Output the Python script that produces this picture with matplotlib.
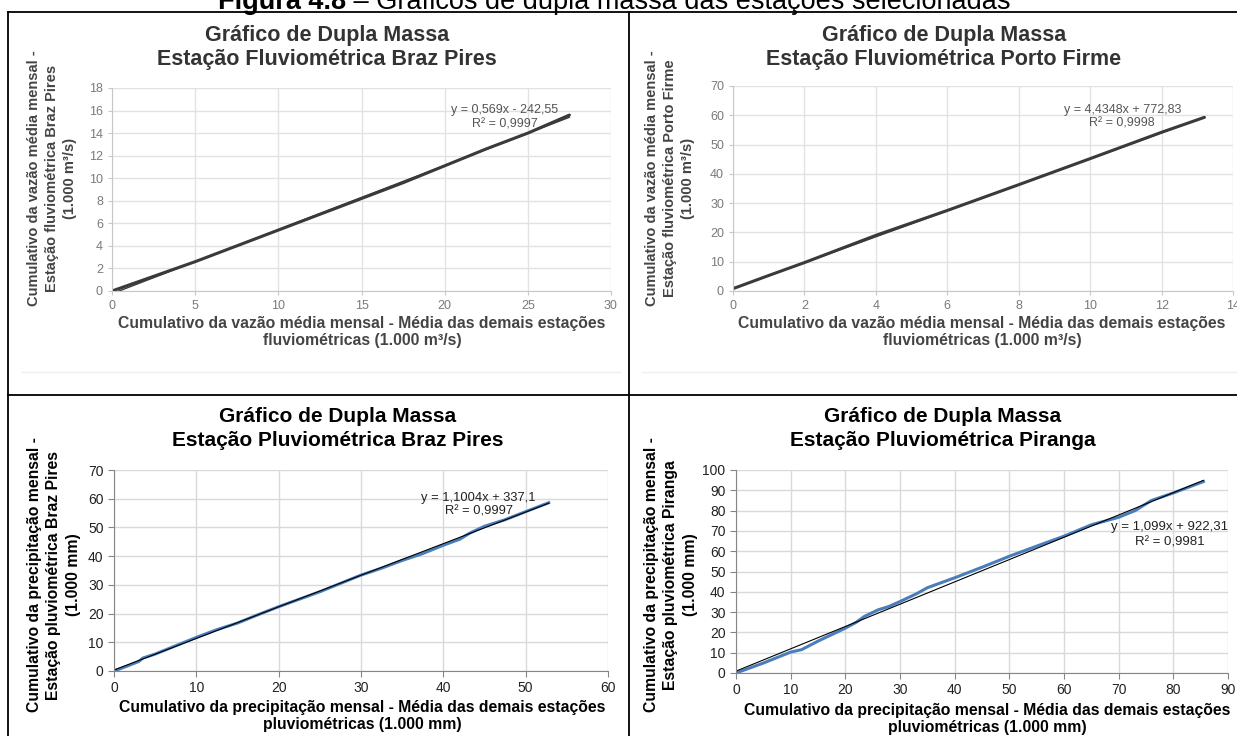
import matplotlib.pyplot as plt
import numpy as np

W, H = 1237, 736

# --- data (cumulative values, thousands) ---
# Estação Fluviométrica Braz Pires
fbp_x = [0, 2.5, 5, 7.5, 10, 12.5, 15, 17.5, 20, 22.5, 25, 27.5]
fbp_y = [0, 1.3, 2.6, 4.0, 5.4, 6.8, 8.2, 9.6, 11.1, 12.6, 14.0, 15.6]
fbp_fit = [0.569, -0.24255]
fbp_eq = "y = 0,569x - 242,55\nR² = 0,9997"

# Estação Fluviométrica Porto Firme
fpf_x = [0, 1, 2, 4, 6, 8, 10, 12, 13.2]
fpf_y = [0.8, 5.3, 9.7, 19.0, 27.5, 36.3, 45.2, 54.2, 59.3]
fpf_fit = [4.4348, 0.77283]
fpf_eq = "y = 4,4348x + 772,83\nR² = 0,9998"

# Estação Pluviométrica Braz Pires
pbp_x = [0, 1.5, 3.0, 3.5, 5, 7.5, 10, 12.5, 15, 17.5, 20, 22.5, 25, 27.5,
         30, 32.5, 35, 37.5, 40, 42, 43.2, 45, 47.5, 50, 52.8]
pbp_y = [0, 1.6, 3.3, 4.5, 5.9, 8.8, 11.7, 14.4, 16.7, 19.6, 22.4, 25.0, 27.6, 30.5,
         33.4, 35.8, 38.5, 40.9, 43.8, 45.9, 48.0, 50.4, 52.7, 55.5, 58.6]
pbp_fit = [1.1004, 0.3371]
pbp_eq = "y = 1,1004x + 337,1\nR² = 0,9997"

# Estação Pluviométrica Piranga
ppi_x = [0, 5, 10, 12, 15, 20, 22, 23.5, 26, 28, 30, 33, 35, 40, 45, 50,
         55, 60, 65, 70, 73, 74.5, 76, 80, 85.5]
ppi_y = [0, 4.9, 10.3, 11.5, 15.7, 22.1, 25.0, 27.9, 31.1, 32.8, 35.2, 39.0, 42.0, 46.9,
         52.1, 57.5, 62.5, 67.4, 73.0, 76.7, 80.0, 82.5, 85.0, 88.7, 94.3]
ppi_fit = [1.099, 0.92231]
ppi_eq = "y = 1,099x + 922,31\nR² = 0,9981"

plt.rcParams['font.family'] = ['Liberation Sans', 'DejaVu Sans']

fig = plt.figure(figsize=(W / 100, H / 100), dpi=100)


def fx(x):
    return x / W


def fy(y):
    return 1 - y / H


def add_ax(x0, x1, y0, y1):
    return fig.add_axes([fx(x0), fy(y1), (x1 - x0) / W, (y1 - y0) / H])


def style(ax, old):
    ax.set_axisbelow(True)
    ax.spines['top'].set_visible(False)
    ax.spines['right'].set_visible(False)
    if old:
        ax.grid(True, color='#e2e2e2', lw=1.0)
        for s in ['left', 'bottom']:
            ax.spines[s].set_color('#c8c8c8')
        ax.tick_params(colors='#c8c8c8', labelcolor='#7a7a7a', labelsize=9, length=3)
    else:
        ax.grid(True, color='#d9d9d9', lw=1.0)
        for s in ['left', 'bottom']:
            ax.spines[s].set_color('#868686')
        ax.tick_params(colors='#868686', labelcolor='#222222', labelsize=10, length=4)


def titles(cx, l1, l2, color, y1, y2, size):
    fig.text(fx(cx), fy(y1), l1, ha='center', va='center', fontsize=size,
             fontweight='bold', color=color)
    fig.text(fx(cx), fy(y2), l2, ha='center', va='center', fontsize=size,
             fontweight='bold', color=color)


def ylab(cx, cy, s, size, color):
    fig.text(fx(cx), fy(cy), s, rotation=90, ha='center', va='center', fontsize=size,
             fontweight='bold', color=color, multialignment='center', linespacing=1.35)


def xlab(cx, cy, s, size, color):
    fig.text(fx(cx), fy(cy), s, ha='center', va='center', fontsize=size,
             fontweight='bold', color=color, multialignment='center', linespacing=1.2)


# --- table borders and caption ---
lk = dict(color='black', lw=1.3, transform=fig.transFigure)
fig.add_artist(plt.Line2D([fx(8), 1], [fy(12), fy(12)], **lk))
fig.add_artist(plt.Line2D([fx(8), 1], [fy(395), fy(395)], **lk))
fig.add_artist(plt.Line2D([fx(8), fx(8)], [fy(12), 0], **lk))
fig.add_artist(plt.Line2D([fx(629), fx(629)], [fy(12), 0], **lk))
fk = dict(color='#eeeeee', lw=1.0, transform=fig.transFigure)
fig.add_artist(plt.Line2D([fx(22), fx(620)], [fy(372), fy(372)], **fk))
fig.add_artist(plt.Line2D([fx(642), 1], [fy(372), fy(372)], **fk))

cap1 = fig.text(fx(218), fy(9), "Figura 4.8", fontsize=19.5, fontweight='bold',
                va='baseline')
fig.canvas.draw()
bb = cap1.get_window_extent(fig.canvas.get_renderer())
fig.text(bb.x1 / W, fy(9), " – Gráficos de dupla massa das estações selecionadas",
         fontsize=19.5, va='baseline')

# --- top left ---
ax = add_ax(112, 611, 88, 291)
style(ax, True)
ax.plot(fbp_x, fbp_y, color='#3a3a3a', lw=2.2, solid_capstyle='round')
tx = np.array([0, fbp_x[-1]])
ax.plot(tx, fbp_fit[0] * tx + fbp_fit[1], color='#3a3a3a', lw=1.0)
ax.set_xlim(0, 30)
ax.set_ylim(0, 18)
ax.set_xticks(range(0, 31, 5))
ax.set_yticks(range(0, 19, 2))
ax.text(23.6, 15.4, fbp_eq, ha='center', va='center', fontsize=9, color='#555555')
titles(327, "Gráfico de Dupla Massa", "Estação Fluviométrica Braz Pires", '#333333', 36, 60, 15.5)
ylab(52, 178, "Cumulativo da vazão média mensal -\nEstação fluviométrica Braz Pires\n(1.000 m³/s)",
     10.5, '#444444')
xlab(362, 332, "Cumulativo da vazão média mensal - Média das demais estações\nfluviométricas (1.000 m³/s)",
     11.3, '#444444')

# --- top right ---
ax = add_ax(733, 1233, 86, 291)
style(ax, True)
ax.plot(fpf_x, fpf_y, color='#3a3a3a', lw=2.2, solid_capstyle='round')
tx = np.array([0, fpf_x[-1]])
ax.plot(tx, fpf_fit[0] * tx + fpf_fit[1], color='#3a3a3a', lw=1.0)
ax.set_xlim(0, 14)
ax.set_ylim(0, 70)
ax.set_xticks(range(0, 15, 2))
ax.set_yticks(range(0, 71, 10))
ax.text(10.9, 59.6, fpf_eq, ha='center', va='center', fontsize=9, color='#555555')
titles(944, "Gráfico de Dupla Massa", "Estação Fluviométrica Porto Firme", '#333333', 36, 60, 15.5)
ylab(670, 178, "Cumulativo da vazão média mensal -\nEstação fluviométrica Porto Firme\n(1.000 m³/s)",
     10.5, '#444444')
xlab(982, 332, "Cumulativo da vazão média mensal - Média das demais estações\nfluviométricas (1.000 m³/s)",
     11.3, '#444444')

# --- bottom left ---
ax = add_ax(114, 608, 470, 671)
style(ax, False)
ax.plot(pbp_x, pbp_y, color='#4a7ebb', lw=2.2)
tx = np.array([0, pbp_x[-1]])
ax.plot(tx, pbp_fit[0] * tx + pbp_fit[1], color='black', lw=0.8)
ax.set_xlim(0, 60)
ax.set_ylim(0, 70)
ax.set_xticks(range(0, 61, 10))
ax.set_yticks(range(0, 71, 10))
ax.text(44.3, 58.0, pbp_eq, ha='center', va='center', fontsize=9.3, color='#222222')
titles(338, "Gráfico de Dupla Massa", "Estação Pluviométrica Braz Pires", 'black', 417, 441, 15)
ylab(54, 575, "Cumulativo da precipitação mensal -\nEstação pluviométrica Braz Pires\n(1.000 mm)",
     11.3, 'black')
xlab(362, 716, "Cumulativo da precipitação mensal - Média das demais estações\npluviométricas (1.000 mm)",
     11.3, 'black')

# --- bottom right ---
ax = add_ax(736, 1228, 470, 673)
style(ax, False)
ax.plot(ppi_x, ppi_y, color='#4a7ebb', lw=2.2)
tx = np.array([0, ppi_x[-1]])
ax.plot(tx, ppi_fit[0] * tx + ppi_fit[1], color='black', lw=0.8)
ax.set_xlim(0, 90)
ax.set_ylim(0, 100)
ax.set_xticks(range(0, 91, 10))
ax.set_yticks(range(0, 101, 10))
ax.text(79.3, 67.9, ppi_eq, ha='center', va='center', fontsize=9.5, color='#222222',
        linespacing=1.4)
titles(943, "Gráfico de Dupla Massa", "Estação Pluviométrica Piranga", 'black', 417, 441, 15)
ylab(671, 575, "Cumulativo da precipitação mensal -\nEstação pluviométrica Piranga\n(1.000 mm)",
     11.3, 'black')
xlab(987, 719, "Cumulativo da precipitação mensal - Média das demais estações\npluviométricas (1.000 mm)",
     11.3, 'black')

fig.savefig('out.png', dpi=100)
